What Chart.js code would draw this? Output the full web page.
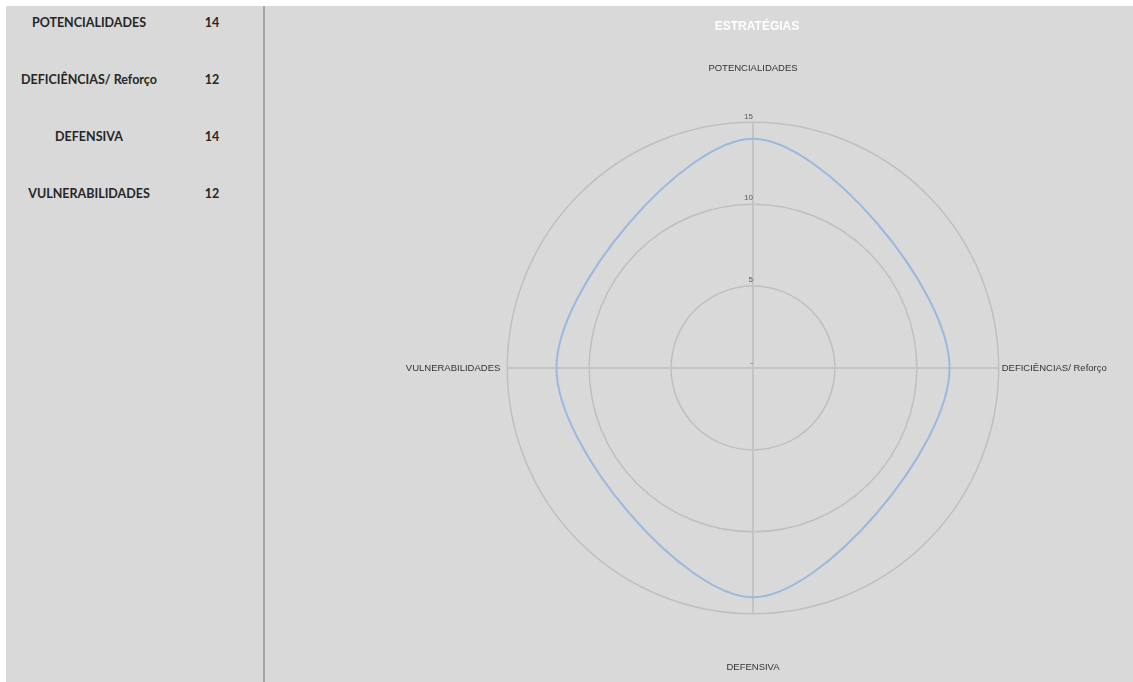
<!DOCTYPE html>
<html>
<head>
<meta charset="utf-8">
<script src="https://cdn.jsdelivr.net/npm/chart.js@4.4.0/dist/chart.umd.min.js"></script>
<style>
  html, body { margin: 0; padding: 0; background: #fff; overflow: hidden; }
  #sheet { position: absolute; left: 6px; top: 6px; width: 1127px; height: 676px; background: #d9d9d9; }
  #divider { position: absolute; left: 257px; top: 0; width: 2px; height: 676px; background: #a6a6a6; }
  .row { position: absolute; left: 0; height: 20px; line-height: 20px;
         font-family: Lato, "Open Sans", sans-serif; font-weight: bold; font-size: 12.5px; color: #262626; }
  .row .name { position: absolute; left: 0; width: 166px; text-align: center; white-space: nowrap; }
  .row .val { position: absolute; left: 186px; width: 40px; text-align: center; }
  #chartBox { position: absolute; left: 375px; top: 0; width: 752px; height: 676px; }
</style>
</head>
<body>
<div id="sheet">
  <div id="table"></div>
  <div id="divider"></div>
  <div id="chartBox"><canvas id="radar"></canvas></div>
</div>
<script>
// data
const categories = ['POTENCIALIDADES', 'DEFICIÊNCIAS/ Reforço', 'DEFENSIVA', 'VULNERABILIDADES'];
const scores = [14, 12, 14, 12];
const axisMin = 0;
const axisMax = 15;
const axisStep = 5;

// left-hand table
const table = document.getElementById('table');
categories.forEach((c, i) => {
  const row = document.createElement('div');
  row.className = 'row';
  row.style.top = (7 + i * 57) + 'px';
  row.innerHTML = `<span class="name">${c}</span><span class="val">${scores[i]}</span>`;
  table.appendChild(row);
});

// tick labels sit just above each ring, to the left of the spoke
const tickLabels = {
  id: 'tickLabels',
  afterDraw(chart) {
    const s = chart.scales.r;
    const ctx = chart.ctx;
    ctx.save();
    ctx.font = '8px "Liberation Sans", Arial, sans-serif';
    ctx.fillStyle = '#595959';
    ctx.textAlign = 'right';
    ctx.textBaseline = 'middle';
    s.ticks.forEach(t => {
      const d = s.getDistanceFromCenterForValue(t.value);
      const txt = t.value === 0 ? '-' : String(t.value);
      ctx.fillText(txt, s.xCenter, s.yCenter - d - (t.value === 0 ? 5 : 6));
    });
    ctx.restore();
  }
};

const labelPad = [48, 3, 48, 7];

new Chart(document.getElementById('radar'), {
  type: 'radar',
  data: {
    labels: categories,
    datasets: [{
      label: 'Série1',
      data: scores,
      borderColor: '#9bb8df',
      borderWidth: 2,
      pointRadius: 0,
      pointHoverRadius: 0,
      fill: false,
      tension: 0.35
    }]
  },
  options: {
    responsive: true,
    maintainAspectRatio: false,
    animation: false,
    layout: { padding: { bottom: 8.5 } },
    plugins: {
      legend: { display: false },
      tooltip: { enabled: false },
      title: {
        display: true,
        text: 'ESTRATÉGIAS',
        color: '#ffffff',
        font: { family: '"Liberation Sans", Arial, sans-serif', size: 12, weight: 'bold' },
        padding: { top: 13, bottom: 29.5 }
      }
    },
    scales: {
      r: {
        min: axisMin,
        max: axisMax,
        ticks: { stepSize: axisStep, display: false },
        grid: { circular: true, color: '#bfbfbf', lineWidth: 1.5 },
        angleLines: { color: '#c4c4c4', lineWidth: 2 },
        pointLabels: {
          color: '#333333',
          font: { family: '"Liberation Sans", Arial, sans-serif', size: 9.5 },
          padding: ctx => labelPad[ctx.index]
        }
      }
    }
  },
  plugins: [tickLabels]
});
</script>
</body>
</html>
